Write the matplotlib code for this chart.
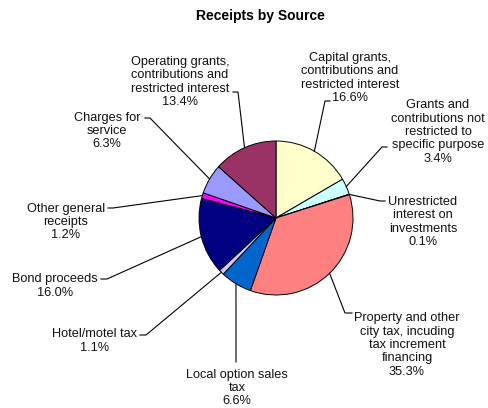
import numpy as np
import matplotlib.pyplot as plt

plt.rcParams["font.family"] = ["Liberation Sans", "DejaVu Sans"]

# -------------------------------
# Data
# -------------------------------

labels = [
    "Capital grants,\ncontributions and\nrestricted interest",
    "Grants and\ncontributions not\nrestricted to\nspecific purpose",
    "Unrestricted\ninterest on\ninvestments",
    "Property and other\ncity tax, incuding\ntax increment\nfinancing",
    "Local option sales\ntax",
    "Hotel/motel tax",
    "Bond proceeds",
    "Other general\nreceipts",
    "Charges for\nservice",
    "Operating grants,\ncontributions and\nrestricted interest",
]
shares = [16.6, 3.4, 0.1, 35.3, 6.6, 1.1, 16.0, 1.2, 6.3, 13.4]
colors = ["#FFFFCC", "#CCFFFF", "#660066", "#FF8080", "#0066CC",
          "#CCCCFF", "#000080", "#FF00FF", "#9999FF", "#993366"]

# label layout in pixels: text centre, stub end, point where leader meets text
text_pos = [(350, 78), (438, 132), (423, 222), (407, 345), (237, 388),
            (95, 341), (55, 286), (66, 222), (107, 131), (180, 82)]
stub = [((325, 101), (330, 101)), ((382, 147), (387, 147)),
        ((380, 201), (385, 201)), ((345, 313), (352, 313)),
        ((236, 362), (236, 362)), ((146, 335), (140, 335)),
        ((107, 279), (101, 279)), ((113, 208), (108, 208)),
        ((150, 118), (145, 118)), ((238, 92), (233, 92))]

# -------------------------------
# Figure
# -------------------------------

W, H = 489, 408
CX, CY, R = 276, 218, 77

fig = plt.figure(figsize=(W / 100, H / 100), dpi=100)
ax = fig.add_axes([0, 0, 1, 1])


def px(x, y):
    return (x - CX) / R, (CY - y) / R


wedges, _ = ax.pie(shares, colors=colors, startangle=90, counterclock=False,
                   radius=1.0, center=(0, 0), frame=True,
                   wedgeprops=dict(edgecolor="black", linewidth=0.7))
ax.set_xlim(-CX / R, (W - CX) / R)
ax.set_ylim(-(H - CY) / R, CY / R)
ax.set_aspect("equal")
ax.axis("off")

for w, lab, val, tp, (elbow, att) in zip(wedges, labels, shares, text_pos, stub):
    ang = np.deg2rad((w.theta1 + w.theta2) / 2)
    ex, ey = np.cos(ang), np.sin(ang)
    bx, by = px(*elbow)
    ax_, ay_ = px(*att)
    ax.plot([ex, bx, ax_], [ey, by, ay_], color="black", lw=0.8)
    tx, ty = px(*tp)
    ax.text(tx, ty, f"{lab}\n{val:.1f}%", ha="center", va="center",
            fontsize=9.2, linespacing=1.15, color="#111111")

fig.text(260 / W, 1 - 16 / H, "Receipts by Source", ha="center", va="center",
         fontsize=10, fontweight="bold")

fig.savefig("out.png", dpi=100)
plt.close(fig)
